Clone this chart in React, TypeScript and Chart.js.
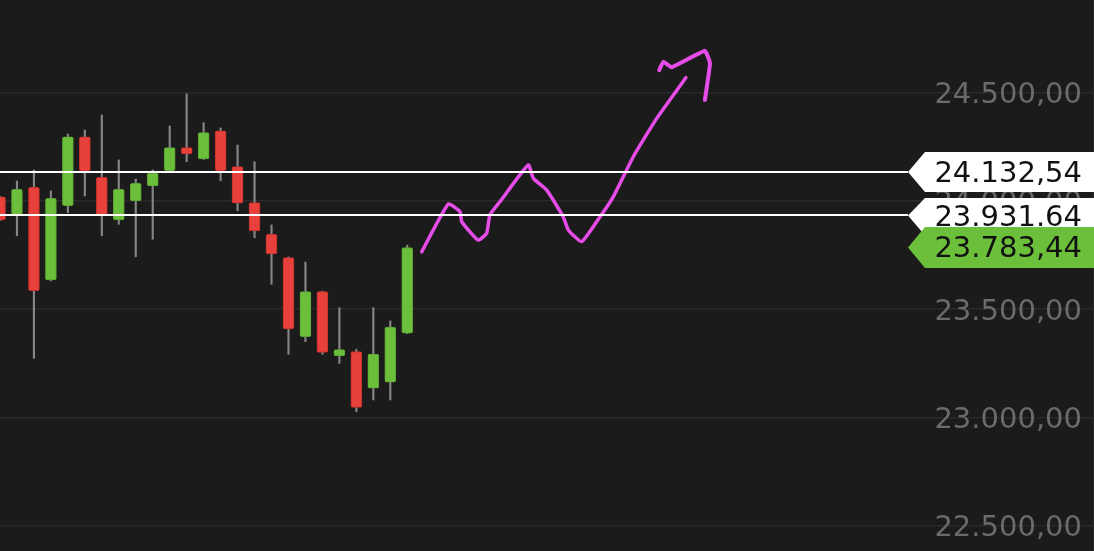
import React, { useEffect, useRef } from "react";
import { Chart, registerables } from "chart.js";

Chart.register(...registerables);

// ---- Data ----
const candleIndex = [0, 1, 2, 3, 4, 5, 6, 7, 8, 9, 10, 11, 12, 13, 14, 15, 16, 17, 18, 19, 20, 21, 22, 23, 24];
const opens = [24018, 23934, 24062, 23634, 23977, 24295, 24108, 23911, 23999, 24068, 24139, 24245, 24193, 24323, 24157, 23991, 23845, 23737, 23372, 23580, 23283, 23303, 23134, 23162, 23388];
const highs = [24020, 24091, 24142, 24045, 24308, 24326, 24396, 24188, 24100, 24142, 24345, 24493, 24360, 24336, 24257, 24180, 23888, 23740, 23716, 23582, 23506, 23314, 23506, 23445, 23795];
const lows = [23908, 23838, 23272, 23630, 23945, 24022, 23838, 23891, 23741, 23822, 24137, 24180, 24190, 24092, 23954, 23829, 23614, 23291, 23349, 23291, 23249, 23026, 23080, 23080, 23386];
const closes = [23911, 24053, 23584, 24011, 24295, 24137, 23934, 24053, 24080, 24127, 24245, 24216, 24314, 24139, 23988, 23860, 23754, 23408, 23580, 23300, 23312, 23046, 23292, 23416, 23783.44];

// hand-drawn magenta forecast stroke (x in candle units, y in price)
const pathX = [24.85, 26.42, 27.11, 27.21, 28.18, 28.68, 28.87, 29.46, 31.13, 31.43, 32.22, 33.19, 33.49, 34.28, 35.36, 36.14, 37.32, 38.7, 40.42];
const pathY = [23764, 23985, 23949, 23903, 23818, 23850, 23934, 23995, 24165, 24103, 24049, 23926, 23865, 23811, 23926, 24018, 24203, 24380, 24568];
const arrowX = [38.85, 39.09, 39.58, 41.54, 41.84, 41.54];
const arrowY = [24603, 24642, 24616, 24692, 24634, 24465];

const levelValues = [24132.54, 23931.64];
const levelLabels = ["24.132,54", "23.931.64"];
const lastPrice = 23783.44;
const lastPriceLabel = "23.783,44";

const yTickValues = [22500, 23000, 23500, 24000, 24500];
const yTickLabels = ["22.500,00", "23.000,00", "23.500,00", "24.000,00", "24.500,00"];
const xGridValues = [8];

const Y_MIN = 22382.6;
const Y_MAX = 24926.6;
const X_MIN = 0;
const X_MAX = 64.47;

// ---- Styles ----
const BG = "#1c1b1b";
const GRID = "#2a2929";
const TICK_COLOR = "#6b6b6b";
const UP = "#6cbf3b";
const UP_BORDER = "#5aa232";
const DOWN = "#e8403a";
const DOWN_BORDER = "#c4302b";
const WICK = "#858585";
const MAGENTA = "#e64ce8";
const FONT = "DejaVu Sans";
const FONT_SIZE = 29;

export default function App() {
  const canvasRef = useRef<HTMLCanvasElement | null>(null);

  useEffect(() => {
    const canvas = canvasRef.current;
    if (!canvas) return;

    const isUp = candleIndex.map((_, i) => closes[i] >= opens[i]);

    const tagsPlugin = {
      id: "levelTags",
      afterDatasetsDraw(chart: any) {
        const ctx = chart.ctx as CanvasRenderingContext2D;
        const y = chart.scales.y;
        const area = chart.chartArea;
        const right = area.right;
        const bodyLeft = right - 169;
        const tipX = right - 186;
        const textRight = right - 12;
        ctx.save();
        ctx.font = `${FONT_SIZE}px "${FONT}"`;
        ctx.textAlign = "right";
        ctx.textBaseline = "middle";

        const drawTag = (yc: number, top: number, bottom: number, fill: string, text: string) => {
          ctx.beginPath();
          ctx.moveTo(tipX, yc);
          ctx.lineTo(bodyLeft, top);
          ctx.lineTo(right, top);
          ctx.lineTo(right, bottom);
          ctx.lineTo(bodyLeft, bottom);
          ctx.closePath();
          ctx.fillStyle = fill;
          ctx.fill();
          ctx.fillStyle = "#111111";
          ctx.fillText(text, textRight, (top + bottom) / 2 + 2);
        };

        // white level lines
        ctx.strokeStyle = "#ffffff";
        ctx.lineWidth = 2;
        levelValues.forEach((v) => {
          const py = Math.round(y.getPixelForValue(v));
          ctx.beginPath();
          ctx.moveTo(area.left, py);
          ctx.lineTo(tipX, py);
          ctx.stroke();
        });

        let prevBottom = -Infinity;
        levelValues.forEach((v, i) => {
          const py = y.getPixelForValue(v);
          const top = Math.max(py - 20, prevBottom + 6);
          const bottom = py + 20;
          drawTag(py, top, bottom, "#ffffff", levelLabels[i]);
          prevBottom = bottom;
        });

        const lp = y.getPixelForValue(lastPrice);
        drawTag(lp, lp - 20.5, lp + 20.5, UP, lastPriceLabel);
        ctx.restore();
      },
    };

    const chart = new Chart(canvas, {
      type: "bar",
      data: {
        datasets: [
          {
            type: "line",
            data: pathX.map((x, i) => ({ x, y: pathY[i] })),
            borderColor: MAGENTA,
            borderWidth: 3.5,
            borderCapStyle: "round",
            borderJoinStyle: "round",
            pointRadius: 0,
            tension: 0.15,
            order: 1,
          } as any,
          {
            type: "line",
            data: arrowX.map((x, i) => ({ x, y: arrowY[i] })),
            borderColor: MAGENTA,
            borderWidth: 4,
            borderCapStyle: "round",
            borderJoinStyle: "round",
            pointRadius: 0,
            tension: 0.1,
            order: 1,
          } as any,
          {
            type: "bar",
            data: candleIndex.map((x, i) => ({ x, y: [Math.min(opens[i], closes[i]), Math.max(opens[i], closes[i])] })),
            backgroundColor: isUp.map((u) => (u ? UP : DOWN)),
            borderColor: isUp.map((u) => (u ? UP_BORDER : DOWN_BORDER)),
            borderWidth: 1,
            borderSkipped: false,
            borderRadius: 2,
            barThickness: 11,
            grouped: false,
            order: 2,
          } as any,
          {
            type: "bar",
            data: candleIndex.map((x, i) => ({ x, y: [lows[i], highs[i]] })),
            backgroundColor: WICK,
            borderWidth: 0,
            barThickness: 1.5,
            grouped: false,
            order: 3,
          } as any,
        ],
      },
      options: {
        animation: false,
        responsive: false,
        devicePixelRatio: 1,
        layout: { padding: 0 },
        plugins: { legend: { display: false }, tooltip: { enabled: false } },
        scales: {
          x: {
            type: "linear",
            min: X_MIN,
            max: X_MAX,
            offset: false,
            afterBuildTicks: (scale: any) => {
              scale.ticks = xGridValues.map((v) => ({ value: v }));
            },
            afterFit: (scale: any) => {
              scale.height = 0;
              scale.paddingLeft = 0;
              scale.paddingRight = 0;
            },
            grid: { color: GRID, lineWidth: 1.5, drawTicks: false },
            border: { display: false },
            ticks: { display: false },
          },
          y: {
            type: "linear",
            position: "right",
            min: Y_MIN,
            max: Y_MAX,
            afterBuildTicks: (scale: any) => {
              scale.ticks = yTickValues.map((v) => ({ value: v }));
            },
            afterFit: (scale: any) => {
              scale.width = 0;
              scale.paddingTop = 0;
              scale.paddingBottom = 0;
            },
            grid: { color: GRID, lineWidth: 1.5, drawTicks: false },
            border: { display: false },
            ticks: {
              mirror: true,
              crossAlign: "near",
              padding: -12,
              labelOffset: 3,
              color: TICK_COLOR,
              font: { family: FONT, size: FONT_SIZE },
              callback: (v: any) => {
                const k = yTickValues.indexOf(Number(v));
                return k >= 0 ? yTickLabels[k] : "";
              },
            },
          },
        },
      } as any,
      plugins: [tagsPlugin],
    });

    return () => chart.destroy();
  }, []);

  return (
    <div style={{ position: "fixed", left: 0, top: 0, width: 1094, height: 551, background: BG }}>
      <canvas ref={canvasRef} width={1094} height={551} style={{ display: "block" }} />
    </div>
  );
}
